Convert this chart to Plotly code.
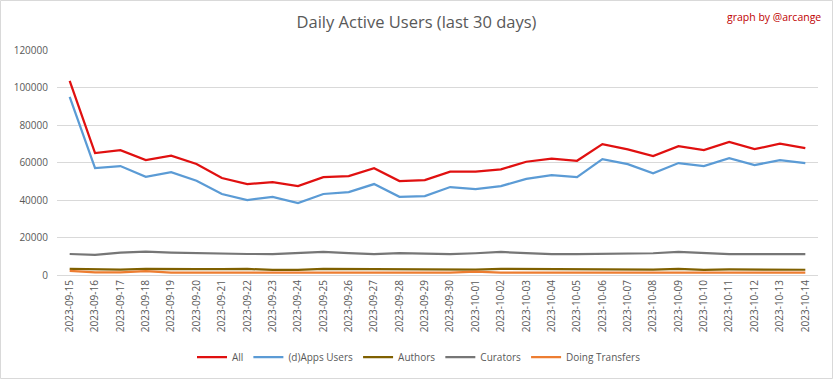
import plotly.graph_objects as go

dates = ["2023-09-15","2023-09-16","2023-09-17","2023-09-18","2023-09-19","2023-09-20",
         "2023-09-21","2023-09-22","2023-09-23","2023-09-24","2023-09-25","2023-09-26",
         "2023-09-27","2023-09-28","2023-09-29","2023-09-30","2023-10-01","2023-10-02",
         "2023-10-03","2023-10-04","2023-10-05","2023-10-06","2023-10-07","2023-10-08",
         "2023-10-09","2023-10-10","2023-10-11","2023-10-12","2023-10-13","2023-10-14"]

all_users = [103500, 65000, 66600, 61300, 63600, 59200, 51700, 48500, 49500, 47400,
             52200, 52700, 57000, 50100, 50600, 55100, 55100, 56300, 60400, 62000,
             60900, 69800, 67000, 63400, 68700, 66600, 71000, 67100, 70000, 67700]

apps_users = [95000, 57000, 58100, 52400, 54900, 50300, 43200, 40000, 41700, 38400,
              43200, 44200, 48500, 41700, 42100, 46900, 45800, 47400, 51300, 53300,
              52200, 61800, 59100, 54300, 59700, 58100, 62300, 58600, 61300, 59700]

authors = [3300, 2900, 2900, 3300, 3100, 3100, 3100, 3200, 2800, 2800,
           3300, 3200, 3200, 3200, 3200, 2900, 2900, 3300, 3200, 3200,
           3200, 3200, 2900, 2900, 3200, 2800, 3000, 3000, 3200, 2800]

curators = [11200, 10700, 11900, 12400, 11900, 11600, 11200, 11200, 11200, 11700,
            12300, 11700, 11200, 11600, 11200, 11200, 11600, 12300, 11700, 11200,
            11200, 11200, 11200, 11600, 12300, 11600, 11200, 11200, 11200, 11200]

transfers = [2200, 1400, 1400, 2000, 1300, 1300, 1300, 1300, 1300, 1300,
             1300, 1300, 1300, 1300, 1300, 1300, 1800, 1300, 1300, 1300,
             1300, 1300, 1300, 1300, 1700, 1300, 1300, 1300, 1300, 1300]

y_ticks = [0, 20000, 40000, 60000, 80000, 100000, 120000]

series = [
    ("All", all_users, "#E01010"),
    ("(d)Apps Users", apps_users, "#5B9BD5"),
    ("Authors", authors, "#7F6000"),
    ("Curators", curators, "#767676"),
    ("Doing Transfers", transfers, "#ED7D31"),
]

fig = go.Figure()
for name, vals, color in series:
    fig.add_trace(go.Scatter(x=dates, y=vals, name=name, mode="lines",
                             line=dict(color=color, width=2.25)))

L, R, T, B = 57, 15, 50, 104
PW, PH = 833 - L - R, 379 - T - B

font_family = "Open Sans, Noto Sans, sans-serif"
fig.update_layout(
    width=833, height=379,
    margin=dict(l=L, r=R, t=T, b=B, autoexpand=False),
    paper_bgcolor="white", plot_bgcolor="white",
    font=dict(family=font_family, color="#595959", size=10),
    title=dict(text="Daily Active Users (last 30 days)", x=0.5, xanchor="center",
               y=1 - 22 / 379, yanchor="middle",
               font=dict(size=16.5, color="#595959", family=font_family)),
    showlegend=True,
    legend=dict(orientation="h", x=(419 - L) / PW, xanchor="center",
                y=(275 - 357) / PH, yanchor="middle",
                font=dict(size=10, color="#595959"), itemwidth=30, traceorder="normal"),
    xaxis=dict(type="category", categoryorder="array", categoryarray=dates,
               range=[-0.5, len(dates) - 0.5], tickangle=-90, automargin=False,
               showgrid=False, showline=True, linecolor="#D9D9D9", linewidth=1,
               ticks="", tickfont=dict(size=10, color="#595959")),
    yaxis=dict(range=[0, 120000], tickvals=y_ticks, ticktext=[str(v) for v in y_ticks],
               automargin=False, ticklabelstandoff=8,
               showgrid=True, gridcolor="#D9D9D9", gridwidth=1, zeroline=False,
               showline=False, ticks="", tickfont=dict(size=10, color="#595959")),
    annotations=[dict(text="graph by @arcange", xref="paper", yref="paper",
                      x=(823 - L) / PW, xanchor="right",
                      y=1 + (T - 17) / PH, yanchor="middle", showarrow=False,
                      font=dict(size=10.5, color="#C00000", family=font_family))],
    shapes=[dict(type="rect", xref="paper", yref="paper",
                 x0=(0.5 - L) / PW, x1=(832.5 - L) / PW,
                 y0=-(B - 0.5) / PH, y1=1 + (T - 0.5) / PH,
                 line=dict(color="#D9D9D9", width=1), fillcolor="rgba(0,0,0,0)")],
)

fig.write_html("out.html", config={"displayModeBar": False},
               post_script="document.body.style.margin='0';document.body.style.overflow='hidden';")
